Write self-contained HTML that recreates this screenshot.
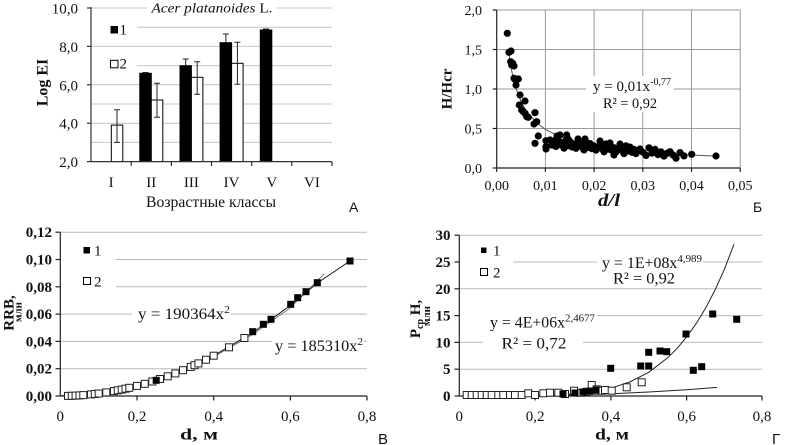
<!DOCTYPE html>
<html><head><meta charset="utf-8">
<style>
html,body{margin:0;padding:0;background:#fff;}
svg{display:block;}
text{font-family:"Liberation Serif",serif;fill:#111;}
.s{font-family:"Liberation Sans",sans-serif;}
.b{font-weight:bold;}
</style></head>
<body>
<svg width="785" height="445" viewBox="0 0 785 445" xmlns="http://www.w3.org/2000/svg" font-family="Liberation Serif, serif">
<rect width="785" height="445" fill="#fff"/>

<!-- ============ PANEL A ============ -->
<g stroke="#c4c4c4" stroke-width="1">
<line x1="91" y1="8" x2="332" y2="8"/>
<line x1="91" y1="27.2" x2="332" y2="27.2"/>
<line x1="91" y1="46.4" x2="332" y2="46.4"/>
<line x1="91" y1="65.6" x2="332" y2="65.6"/>
<line x1="91" y1="84.8" x2="332" y2="84.8"/>
<line x1="91" y1="104" x2="332" y2="104"/>
<line x1="91" y1="123.2" x2="332" y2="123.2"/>
<line x1="91" y1="142.4" x2="332" y2="142.4"/>
</g>
<rect x="147" y="0" width="130" height="17" fill="#fff"/>
<rect x="92" y="19" width="45" height="18" fill="#fff"/>
<rect x="92" y="56" width="45" height="18" fill="#fff"/>
<text x="212" y="12.5" text-anchor="middle" font-size="14" textLength="121" lengthAdjust="spacingAndGlyphs"><tspan font-style="italic">Acer platanoides</tspan> L.</text>
<rect x="110.5" y="26" width="7.5" height="7.5" fill="#000"/>
<text x="119.5" y="34.5" font-size="15">1</text>
<rect x="110.5" y="60.3" width="7.5" height="7.5" fill="#fff" stroke="#000" stroke-width="1"/>
<text x="119.5" y="68.5" font-size="15">2</text>
<g stroke="#000" stroke-width="1">
<rect x="111.3" y="125.1" width="11.5" height="36.5" fill="#fff"/>
<rect x="139.8" y="73.3" width="11.5" height="88.3" fill="#000"/>
<rect x="151.3" y="100" width="11.5" height="61.6" fill="#fff"/>
<rect x="180" y="65.7" width="11.4" height="95.9" fill="#000"/>
<rect x="191.4" y="77.3" width="11.5" height="84.3" fill="#fff"/>
<rect x="220.1" y="42.7" width="11.5" height="118.9" fill="#000"/>
<rect x="231.6" y="63.3" width="11.5" height="98.3" fill="#fff"/>
<rect x="260.3" y="30" width="11.5" height="131.6" fill="#000"/>
</g>
<g stroke="#222" stroke-width="1" fill="none">
<path d="M117 109.7V142.4M114 109.7H120M114 142.4H120"/>
<path d="M157 83.3V117.3M154 83.3H160M154 117.3H160"/>
<path d="M145.5 72.5V74M142.5 72.5H148.5"/>
<path d="M185.7 59V66M182.7 59H188.7"/>
<path d="M197.2 61.7V94.3M194.2 61.7H200.2M194.2 94.3H200.2"/>
<path d="M225.9 34V43M222.9 34H228.9"/>
<path d="M237.4 42.3V84.3M234.4 42.3H240.4M234.4 84.3H240.4"/>
<path d="M266 29V30.5M263 29H269"/>
</g>
<g stroke="#333" stroke-width="1.2">
<line x1="91" y1="7" x2="91" y2="162"/>
<line x1="91" y1="161.6" x2="332" y2="161.6"/>
<line x1="87" y1="8" x2="91" y2="8"/>
<line x1="87" y1="46.4" x2="91" y2="46.4"/>
<line x1="87" y1="84.8" x2="91" y2="84.8"/>
<line x1="87" y1="123.2" x2="91" y2="123.2"/>
<line x1="87" y1="161.6" x2="91" y2="161.6"/>
<line x1="131.2" y1="161.6" x2="131.2" y2="166"/>
<line x1="171.4" y1="161.6" x2="171.4" y2="166"/>
<line x1="211.5" y1="161.6" x2="211.5" y2="166"/>
<line x1="251.7" y1="161.6" x2="251.7" y2="166"/>
<line x1="291.8" y1="161.6" x2="291.8" y2="166"/>
<line x1="332" y1="161.6" x2="332" y2="166"/>
</g>
<g font-size="15" text-anchor="end">
<text x="78" y="13.5">10,0</text>
<text x="78" y="51.9">8,0</text>
<text x="78" y="90.3">6,0</text>
<text x="78" y="128.7">4,0</text>
<text x="78" y="167.1">2,0</text>
</g>
<g font-size="15" text-anchor="middle">
<text x="111.1" y="187">I</text>
<text x="151.3" y="187">II</text>
<text x="191.4" y="187">III</text>
<text x="231.6" y="187">IV</text>
<text x="271.8" y="187">V</text>
<text x="311.9" y="187">VI</text>
</g>
<text x="211" y="207" font-size="16" text-anchor="middle" textLength="130" lengthAdjust="spacingAndGlyphs">Возрастные классы</text>
<text transform="translate(47.5,82.5) rotate(-90)" font-size="16" class="b" text-anchor="middle">Log EI</text>
<text x="349" y="212" class="s" font-size="14">А</text>

<!-- ============ PANEL Б ============ -->
<g stroke="#9a9a9a" stroke-width="1">
<line x1="496.7" y1="10" x2="740.2" y2="10"/>
<line x1="496.7" y1="49.5" x2="740.2" y2="49.5"/>
<line x1="496.7" y1="89" x2="740.2" y2="89"/>
<line x1="496.7" y1="128.5" x2="740.2" y2="128.5"/>
<line x1="545.4" y1="10" x2="545.4" y2="168"/>
<line x1="594.1" y1="10" x2="594.1" y2="168"/>
<line x1="642.8" y1="10" x2="642.8" y2="168"/>
<line x1="691.5" y1="10" x2="691.5" y2="168"/>
<line x1="740.2" y1="10" x2="740.2" y2="168"/>
</g>
<rect x="586" y="76" width="88" height="36" fill="#fff"/>
<text x="632" y="91" font-size="15" text-anchor="middle" textLength="78" lengthAdjust="spacingAndGlyphs">y = 0,01x<tspan font-size="10" dy="-6">-0,77</tspan></text>
<text x="630" y="108" font-size="15" text-anchor="middle" textLength="54" lengthAdjust="spacingAndGlyphs">R² = 0,92</text>
<g stroke="#222" stroke-width="1.2">
<line x1="496.7" y1="10" x2="496.7" y2="168"/>
<line x1="496.7" y1="168" x2="740.2" y2="168"/>
<line x1="492.7" y1="10" x2="496.7" y2="10"/>
<line x1="492.7" y1="49.5" x2="496.7" y2="49.5"/>
<line x1="492.7" y1="89" x2="496.7" y2="89"/>
<line x1="492.7" y1="128.5" x2="496.7" y2="128.5"/>
<line x1="492.7" y1="168" x2="496.7" y2="168"/>
<line x1="496.7" y1="168" x2="496.7" y2="172"/>
<line x1="545.4" y1="168" x2="545.4" y2="172"/>
<line x1="594.1" y1="168" x2="594.1" y2="172"/>
<line x1="642.8" y1="168" x2="642.8" y2="172"/>
<line x1="691.5" y1="168" x2="691.5" y2="172"/>
<line x1="740.2" y1="168" x2="740.2" y2="172"/>
</g>
<polyline fill="none" stroke="#555" stroke-width="1" points="508.9,53.4 511.3,68.8 513.7,80.1 516.2,88.8 521,101.6 525.9,110.4 535.7,122 545.4,129.4 560,136.6 574.6,141.3 594.1,145.6 618.5,149.2 642.8,151.7 667.1,153.5 691.5,155 715.9,156.1"/>
<g fill="#000">
<circle cx="507.3" cy="33.3" r="3.6"/><circle cx="509" cy="52.3" r="3.6"/><circle cx="511" cy="51" r="3.6"/>
<circle cx="510.7" cy="61.7" r="3.6"/><circle cx="512.7" cy="63.3" r="3.6"/><circle cx="514" cy="66" r="3.6"/>
<circle cx="511.7" cy="65" r="3.6"/><circle cx="514" cy="78.3" r="3.6"/><circle cx="518.3" cy="79" r="3.6"/>
<circle cx="516" cy="85" r="3.6"/><circle cx="515" cy="79.3" r="3.6"/><circle cx="520" cy="95" r="3.6"/>
<circle cx="519.3" cy="105" r="3.6"/><circle cx="521.7" cy="110" r="3.6"/><circle cx="523.3" cy="111.7" r="3.6"/>
<circle cx="525" cy="113.3" r="3.6"/><circle cx="526.7" cy="116.7" r="3.6"/><circle cx="528.3" cy="117.3" r="3.6"/>
<circle cx="525" cy="101" r="3.6"/><circle cx="535" cy="112.7" r="3.6"/><circle cx="536.7" cy="121.7" r="3.6"/>
<circle cx="534" cy="124" r="3.6"/><circle cx="538.3" cy="136" r="3.6"/><circle cx="535" cy="143.3" r="3.6"/>
<circle cx="546" cy="140.7" r="3.6"/><circle cx="546" cy="146.7" r="3.6"/><circle cx="546" cy="149" r="3.6"/>
<circle cx="553.3" cy="141" r="3.6"/><circle cx="558.3" cy="142.7" r="3.6"/><circle cx="560" cy="135" r="3.6"/>
<circle cx="566.7" cy="135" r="3.6"/><circle cx="568.3" cy="139.3" r="3.6"/><circle cx="563.3" cy="144" r="3.6"/>
<circle cx="550" cy="140" r="3.6"/><circle cx="552" cy="145.2" r="3.6"/><circle cx="554" cy="142.4" r="3.6"/>
<circle cx="556" cy="146.5" r="3.6"/><circle cx="558" cy="143.7" r="3.6"/><circle cx="560" cy="141.9" r="3.6"/>
<circle cx="562" cy="145.1" r="3.6"/><circle cx="564" cy="148.2" r="3.6"/><circle cx="566" cy="140.4" r="3.6"/>
<circle cx="568" cy="145.6" r="3.6"/><circle cx="570" cy="141.8" r="3.6"/><circle cx="572" cy="147" r="3.6"/>
<circle cx="574" cy="144.1" r="3.6"/><circle cx="576" cy="148.3" r="3.6"/><circle cx="578" cy="145.5" r="3.6"/>
<circle cx="580" cy="143.7" r="3.6"/><circle cx="582" cy="146.9" r="3.6"/><circle cx="584" cy="150" r="3.6"/>
<circle cx="586" cy="142.2" r="3.6"/><circle cx="588" cy="147.4" r="3.6"/><circle cx="590" cy="143.6" r="3.6"/>
<circle cx="592" cy="148.7" r="3.6"/><circle cx="594" cy="145.9" r="3.6"/><circle cx="596" cy="150.1" r="3.6"/>
<circle cx="598" cy="147.3" r="3.6"/><circle cx="600" cy="145.5" r="3.6"/><circle cx="602" cy="148.6" r="3.6"/>
<circle cx="604" cy="151.8" r="3.6"/><circle cx="606" cy="144" r="3.6"/><circle cx="608" cy="149.2" r="3.6"/>
<circle cx="610" cy="145.3" r="3.6"/><circle cx="612" cy="150.5" r="3.6"/><circle cx="614" cy="147.7" r="3.6"/>
<circle cx="616" cy="151.9" r="3.6"/><circle cx="618" cy="149.1" r="3.6"/><circle cx="620" cy="147.2" r="3.6"/>
<circle cx="622" cy="150.4" r="3.6"/><circle cx="624" cy="153.6" r="3.6"/><circle cx="626" cy="145.8" r="3.6"/>
<circle cx="628" cy="150.9" r="3.6"/><circle cx="630" cy="147.1" r="3.6"/><circle cx="632" cy="152.3" r="3.6"/>
<circle cx="634" cy="149.5" r="3.6"/><circle cx="636" cy="153.6" r="3.6"/><circle cx="638" cy="150.8" r="3.6"/>
<circle cx="640" cy="149" r="3.6"/><circle cx="643" cy="152.3" r="3.6"/><circle cx="646" cy="155.5" r="3.6"/>
<circle cx="649" cy="147.8" r="3.6"/><circle cx="652" cy="153.1" r="3.6"/><circle cx="655" cy="149.3" r="3.6"/>
<circle cx="658" cy="154.6" r="3.6"/><circle cx="661" cy="151.9" r="3.6"/><circle cx="664" cy="156.1" r="3.6"/>
<circle cx="667" cy="153.4" r="3.6"/><circle cx="670" cy="151.7" r="3.6"/><circle cx="673" cy="155" r="3.6"/>
<circle cx="676" cy="158.2" r="3.6"/><circle cx="680" cy="152.6" r="3.6"/><circle cx="684" cy="155.9" r="3.6"/>
<circle cx="691.7" cy="154.3" r="3.6"/><circle cx="716" cy="156" r="3.6"/><circle cx="614" cy="155" r="3.6"/>
<circle cx="557" cy="136" r="3.6"/><circle cx="578" cy="139" r="3.6"/><circle cx="585" cy="139" r="3.6"/>
<circle cx="600" cy="141" r="3.6"/><circle cx="610" cy="143" r="3.6"/><circle cx="620" cy="144" r="3.6"/>
</g>
<g font-size="14" text-anchor="end">
<text x="482" y="15">2,0</text>
<text x="482" y="54.5">1,5</text>
<text x="482" y="94">1,0</text>
<text x="482" y="133.5">0,5</text>
<text x="482" y="173">0,0</text>
</g>
<g font-size="14" text-anchor="middle">
<text x="496.7" y="190">0,00</text>
<text x="545.4" y="190">0,01</text>
<text x="594.1" y="190">0,02</text>
<text x="642.8" y="190">0,03</text>
<text x="691.5" y="190">0,04</text>
<text x="740.2" y="190">0,05</text>
</g>
<text x="609" y="206" font-size="18" class="b" font-style="italic" text-anchor="middle" textLength="22" lengthAdjust="spacingAndGlyphs">d/l</text>
<text transform="translate(451.5,89) rotate(-90)" font-size="15" class="b" text-anchor="middle">H/Hcr</text>
<text x="753" y="212" class="s" font-size="14">Б</text>

<!-- ============ PANEL В ============ -->
<g stroke="#b8b8b8" stroke-width="1">
<line x1="60.3" y1="232.2" x2="367" y2="232.2"/>
<line x1="60.3" y1="259.5" x2="367" y2="259.5"/>
<line x1="60.3" y1="286.8" x2="367" y2="286.8"/>
<line x1="60.3" y1="314.1" x2="367" y2="314.1"/>
<line x1="60.3" y1="341.4" x2="367" y2="341.4"/>
<line x1="60.3" y1="368.7" x2="367" y2="368.7"/>
</g>
<rect x="61" y="240" width="55" height="52" fill="#fff"/>
<rect x="132" y="305" width="99" height="17" fill="#fff"/>
<rect x="272" y="333" width="92" height="18" fill="#fff"/>
<text x="184" y="319" font-size="16" text-anchor="middle" textLength="92" lengthAdjust="spacingAndGlyphs">y = 190364x<tspan font-size="11" dy="-6">2</tspan></text>
<text x="319" y="351" font-size="16" text-anchor="middle" textLength="88" lengthAdjust="spacingAndGlyphs">y = 185310x<tspan font-size="11" dy="-6">2</tspan></text>
<rect x="83.5" y="247" width="6.5" height="6.5" fill="#000"/>
<text x="94" y="255.5" font-size="15">1</text>
<rect x="83.5" y="277.5" width="7" height="7" fill="#fff" stroke="#000"/>
<text x="94" y="286.5" font-size="15">2</text>
<g stroke="#222" stroke-width="1.2">
<line x1="60.3" y1="232.2" x2="60.3" y2="396"/>
<line x1="60.3" y1="396" x2="367" y2="396"/>
<line x1="55.5" y1="232.2" x2="60.3" y2="232.2"/>
<line x1="55.5" y1="259.5" x2="60.3" y2="259.5"/>
<line x1="55.5" y1="286.8" x2="60.3" y2="286.8"/>
<line x1="55.5" y1="314.1" x2="60.3" y2="314.1"/>
<line x1="55.5" y1="341.4" x2="60.3" y2="341.4"/>
<line x1="55.5" y1="368.7" x2="60.3" y2="368.7"/>
<line x1="55.5" y1="396" x2="60.3" y2="396"/>
<line x1="137" y1="396" x2="137" y2="400.5"/>
<line x1="213.7" y1="396" x2="213.7" y2="400.5"/>
<line x1="290.4" y1="396" x2="290.4" y2="400.5"/>
<line x1="367" y1="396" x2="367" y2="400.5"/>
</g>
<polyline fill="none" stroke="#777" stroke-width="1" points="60.3,396 98.7,393.6 137,386.2 175.4,374 213.7,356.8 252.1,334.8 290.4,307.8 324,274"/>
<polyline fill="none" stroke="#111" stroke-width="1" points="60.3,396 98.7,393.5 137,385.9 175.4,373.4 213.7,355.7 252.1,333.1 290.4,305.4 317.2,283.1 350,261"/>
<g fill="#fff" stroke="#222" stroke-width="1">
<rect x="64.5" y="392.4" width="7" height="7"/><rect x="68.3" y="392.3" width="7" height="7"/>
<rect x="72.1" y="392.1" width="7" height="7"/><rect x="76" y="391.9" width="7" height="7"/>
<rect x="79.8" y="391.6" width="7" height="7"/><rect x="87.5" y="390.9" width="7" height="7"/>
<rect x="91.3" y="390.5" width="7" height="7"/><rect x="95.2" y="390" width="7" height="7"/>
<rect x="102.8" y="388.9" width="7" height="7"/><rect x="110.5" y="387.6" width="7" height="7"/>
<rect x="114.3" y="386.8" width="7" height="7"/><rect x="118.2" y="386.1" width="7" height="7"/>
<rect x="122" y="385.2" width="7" height="7"/><rect x="125.8" y="384.3" width="7" height="7"/>
<rect x="133.5" y="382.4" width="7" height="7"/><rect x="141.2" y="380.3" width="7" height="7"/>
<rect x="148.8" y="378" width="7" height="7"/><rect x="156.5" y="375.5" width="7" height="7"/>
<rect x="164.2" y="372.8" width="7" height="7"/><rect x="171.9" y="369.9" width="7" height="7"/>
<rect x="179.5" y="366.7" width="7" height="7"/><rect x="187.2" y="363.4" width="7" height="7"/>
<rect x="191" y="361.7" width="7" height="7"/><rect x="194.9" y="359.9" width="7" height="7"/>
<rect x="202.5" y="356.2" width="7" height="7"/><rect x="210.2" y="352.2" width="7" height="7"/>
<rect x="225.5" y="343.8" width="7" height="7"/><rect x="240.9" y="334.5" width="7" height="7"/>
</g>
<g fill="#000">
<rect x="152.7" y="376.8" width="7" height="7"/>
<rect x="249.2" y="328.2" width="7" height="7"/><rect x="259.8" y="320.8" width="7" height="7"/>
<rect x="267.5" y="315.8" width="7" height="7"/><rect x="287.2" y="300.8" width="7" height="7"/>
<rect x="294.2" y="294.2" width="7" height="7"/><rect x="302.5" y="288.2" width="7" height="7"/>
<rect x="313.8" y="279.2" width="7" height="7"/><rect x="346.5" y="257.5" width="7" height="7"/>
</g>
<g font-size="15" class="b" text-anchor="end">
<text x="52" y="237.2">0,12</text>
<text x="52" y="264.5">0,10</text>
<text x="52" y="291.8">0,08</text>
<text x="52" y="319.1">0,06</text>
<text x="52" y="346.4">0,04</text>
<text x="52" y="373.7">0,02</text>
<text x="52" y="401">0,00</text>
</g>
<g font-size="15" text-anchor="middle">
<text x="60.3" y="421">0</text>
<text x="137" y="421">0,2</text>
<text x="213.7" y="421">0,4</text>
<text x="290.4" y="421">0,6</text>
<text x="367" y="421">0,8</text>
</g>
<text x="199" y="439.5" font-size="16" class="b" text-anchor="middle" textLength="38" lengthAdjust="spacingAndGlyphs">d, м</text>
<text transform="translate(13.5,313) rotate(-90)" font-size="15" class="b" text-anchor="middle">RRB,</text>
<text transform="translate(21.5,312) rotate(-90)" font-size="11" class="b" text-anchor="middle">млн</text>
<text x="378" y="444" class="s" font-size="15">В</text>

<!-- ============ PANEL Г ============ -->
<g stroke="#b8b8b8" stroke-width="1">
<line x1="459.3" y1="235.2" x2="762" y2="235.2"/>
<line x1="459.3" y1="262" x2="762" y2="262"/>
<line x1="459.3" y1="288.8" x2="762" y2="288.8"/>
<line x1="459.3" y1="315.6" x2="762" y2="315.6"/>
<line x1="459.3" y1="342.4" x2="762" y2="342.4"/>
<line x1="459.3" y1="369.2" x2="762" y2="369.2"/>
</g>
<rect x="460" y="240" width="53" height="45" fill="#fff"/>
<rect x="597" y="251" width="106" height="35" fill="#fff"/>
<rect x="460" y="305" width="137" height="28" fill="#fff"/>
<rect x="483" y="333" width="100" height="19" fill="#fff"/>
<text x="652" y="268" font-size="16" text-anchor="middle" textLength="100" lengthAdjust="spacingAndGlyphs">y = 1E+08x<tspan font-size="11" dy="-6">4,989</tspan></text>
<text x="644" y="283.5" font-size="16" text-anchor="middle" textLength="62" lengthAdjust="spacingAndGlyphs">R² = 0,92</text>
<text x="542.5" y="327.5" font-size="16" text-anchor="middle" textLength="105" lengthAdjust="spacingAndGlyphs">y = 4E+06x<tspan font-size="11" dy="-6">2,4677</tspan></text>
<text x="534" y="348.5" font-size="16" text-anchor="middle" textLength="65" lengthAdjust="spacingAndGlyphs">R² = 0,72</text>
<rect x="481" y="247.5" width="5.5" height="5.5" fill="#000"/>
<text x="493" y="255.5" font-size="15">1</text>
<rect x="480.5" y="268.5" width="7" height="7" fill="#fff" stroke="#000"/>
<text x="493" y="277.5" font-size="15">2</text>
<g stroke="#222" stroke-width="1.2">
<line x1="459.3" y1="235.2" x2="459.3" y2="396"/>
<line x1="459.3" y1="396" x2="762" y2="396"/>
<line x1="454.5" y1="235.2" x2="459.3" y2="235.2"/>
<line x1="454.5" y1="262" x2="459.3" y2="262"/>
<line x1="454.5" y1="288.8" x2="459.3" y2="288.8"/>
<line x1="454.5" y1="315.6" x2="459.3" y2="315.6"/>
<line x1="454.5" y1="342.4" x2="459.3" y2="342.4"/>
<line x1="454.5" y1="369.2" x2="459.3" y2="369.2"/>
<line x1="454.5" y1="396" x2="459.3" y2="396"/>
<line x1="535.1" y1="396" x2="535.1" y2="400.5"/>
<line x1="610.9" y1="396" x2="610.9" y2="400.5"/>
<line x1="686.6" y1="396" x2="686.6" y2="400.5"/>
<line x1="762" y1="396" x2="762" y2="400.5"/>
</g>
<polyline fill="none" stroke="#222" stroke-width="1" points="516.1,396 535.1,395.8 554,395.3 573,394.1 591.9,392 610.9,388.2 629.8,382 648.8,372.3 667.7,357.8 677.2,348.3 686.6,337 696.1,323.7 705.6,308.1 715.1,289.9 724.5,268.9 734,244.3"/>
<polyline fill="none" stroke="#222" stroke-width="1" points="466.9,396 478.2,396 497.2,395.9 535.1,395.6 573,394.9 610.9,393.7 648.8,392 686.6,389.7 717,387.4"/>
<g fill="#fff" stroke="#222" stroke-width="1">
<rect x="463.2" y="391.5" width="7" height="7"/><rect x="468.2" y="391.5" width="7" height="7"/>
<rect x="473.2" y="391.5" width="7" height="7"/><rect x="478.2" y="391.5" width="7" height="7"/>
<rect x="483.2" y="391.5" width="7" height="7"/><rect x="488.2" y="391.5" width="7" height="7"/>
<rect x="494.8" y="391.5" width="7" height="7"/><rect x="499.8" y="391.5" width="7" height="7"/>
<rect x="506.5" y="391.5" width="7" height="7"/><rect x="511.5" y="391.5" width="7" height="7"/>
<rect x="518.2" y="391.5" width="7" height="7"/><rect x="524.8" y="389.8" width="7" height="7"/>
<rect x="531.5" y="391.5" width="7" height="7"/><rect x="539.8" y="389.8" width="7" height="7"/>
<rect x="546.5" y="389.2" width="7" height="7"/><rect x="554.8" y="389.2" width="7" height="7"/>
<rect x="561.5" y="390.5" width="7" height="7"/><rect x="570.5" y="387.2" width="7" height="7"/>
<rect x="577.5" y="389.2" width="7" height="7"/><rect x="583.2" y="388.2" width="7" height="7"/>
<rect x="588.2" y="381.5" width="7" height="7"/><rect x="593.2" y="385.8" width="7" height="7"/>
<rect x="598.2" y="387.2" width="7" height="7"/><rect x="601.5" y="386.5" width="7" height="7"/>
<rect x="608.2" y="387.2" width="7" height="7"/><rect x="623.2" y="383.8" width="7" height="7"/>
<rect x="638.2" y="378.8" width="7" height="7"/>
</g>
<g fill="#000">
<rect x="559.5" y="390.5" width="7" height="7"/><rect x="571.5" y="389.5" width="7" height="7"/>
<rect x="579.5" y="388.5" width="7" height="7"/><rect x="586.5" y="387.5" width="7" height="7"/>
<rect x="592.5" y="386.5" width="7" height="7"/>
<rect x="607.2" y="364.8" width="7" height="7"/><rect x="637.2" y="362.5" width="7" height="7"/>
<rect x="645.2" y="362.5" width="7" height="7"/><rect x="645.2" y="348.8" width="7" height="7"/>
<rect x="656.5" y="347.5" width="7" height="7"/><rect x="663.2" y="348.2" width="7" height="7"/>
<rect x="682.5" y="330.5" width="7" height="7"/><rect x="689.8" y="366.8" width="7" height="7"/>
<rect x="698.2" y="363.2" width="7" height="7"/><rect x="709.2" y="310.5" width="7" height="7"/>
<rect x="733.2" y="315.8" width="7" height="7"/>
</g>
<g font-size="15" class="b" text-anchor="end">
<text x="450.5" y="240.2">30</text>
<text x="450.5" y="267">25</text>
<text x="450.5" y="293.8">20</text>
<text x="450.5" y="320.6">15</text>
<text x="450.5" y="347.4">10</text>
<text x="450.5" y="374.2">5</text>
<text x="450.5" y="401">0</text>
</g>
<g font-size="15" text-anchor="middle">
<text x="459.3" y="421">0</text>
<text x="535.1" y="421">0,2</text>
<text x="610.9" y="421">0,4</text>
<text x="686.6" y="421">0,6</text>
<text x="762" y="421">0,8</text>
</g>
<text x="612" y="439.5" font-size="16" class="b" text-anchor="middle" textLength="34" lengthAdjust="spacingAndGlyphs">d, м</text>
<text transform="translate(420,319) rotate(-90)" font-size="15" class="b" text-anchor="middle">P<tspan font-size="10" dy="3">ср</tspan><tspan dy="-3"> H,</tspan></text>
<text transform="translate(430,316) rotate(-90)" font-size="11" class="b" text-anchor="middle">млн</text>
<text x="772" y="444" class="s" font-size="15">Г</text>
</svg>
</body></html>
